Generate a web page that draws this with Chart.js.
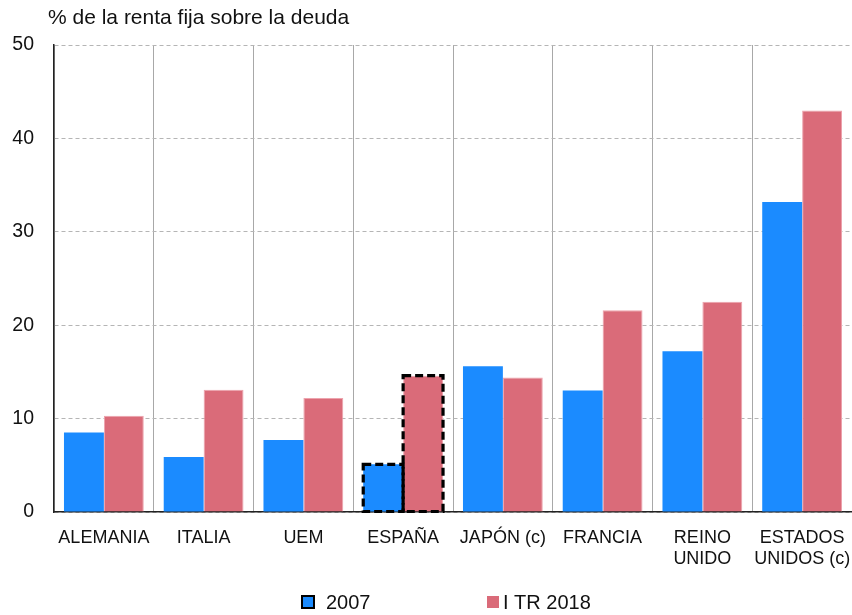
<!DOCTYPE html>
<html>
<head>
<meta charset="utf-8">
<script src="https://cdn.jsdelivr.net/npm/chart.js@4"></script>
<style>
  html, body { margin: 0; padding: 0; background: #fff; }
  #wrap { width: 852px; height: 615px; position: relative; }
</style>
</head>
<body>
<div id="wrap"><canvas id="c" width="852" height="615"></canvas></div>
<script>
const categories = ["ALEMANIA", "ITALIA", "UEM", "ESPAÑA", "JAPÓN (c)", "FRANCIA", ["REINO", "UNIDO"], ["ESTADOS", "UNIDOS (c)"]];
const values2007 = [8.5, 5.9, 7.7, 5.1, 15.6, 13.0, 17.2, 33.2];
const values2018 = [10.3, 13.1, 12.2, 14.6, 14.4, 21.6, 22.5, 43.0];
const seriesNames = ["2007", "I TR 2018"];
const yTicks = [0, 10, 20, 30, 40, 50];
const titleText = "% de la renta fija sobre la deuda";
const highlightIndex = 3;

const FONT = "'Liberation Sans', Arial, Helvetica, sans-serif";
const BLUE = "#1b8bff";
const PINK = "#da6b79";

const extras = {
  id: "extras",
  afterDatasetsDraw(chart) {
    const ctx = chart.ctx;
    ctx.save();
    ctx.strokeStyle = "#000";
    ctx.lineWidth = 3.2;
    ctx.setLineDash([8, 4]);
    chart.data.datasets.forEach((ds, i) => {
      const el = chart.getDatasetMeta(i).data[highlightIndex];
      if (!el) return;
      const p = el.getProps(["x", "y", "base", "width"], true);
      ctx.strokeRect(p.x - p.width / 2, p.y, p.width, p.base - p.y);
    });
    ctx.restore();
  },
  afterDraw(chart) {
    const ctx = chart.ctx;
    ctx.save();
    ctx.fillStyle = "#111";
    ctx.font = "21px " + FONT;
    ctx.textBaseline = "middle";
    ctx.textAlign = "left";
    ctx.fillText(titleText, 48, 18);
    // legend
    const items = [
      { x: 302, color: BLUE, border: true, text: seriesNames[0] },
      { x: 487, color: PINK, border: false, text: seriesNames[1] }
    ];
    ctx.font = "20px " + FONT;
    items.forEach(it => {
      ctx.fillStyle = it.color;
      ctx.fillRect(it.x, 596, 12, 12);
      if (it.border) {
        ctx.strokeStyle = "#000";
        ctx.lineWidth = 2;
        ctx.strokeRect(it.x, 596, 12, 12);
      }
      ctx.fillStyle = "#111";
      ctx.fillText(it.text, it.x + (it.border ? 24 : 16), 603);
    });
    ctx.restore();
  }
};

new Chart(document.getElementById("c"), {
  type: "bar",
  data: {
    labels: categories,
    datasets: [
      { label: seriesNames[0], data: values2007, backgroundColor: BLUE, borderWidth: 0 },
      { label: seriesNames[1], data: values2018, backgroundColor: PINK, borderColor: "#eda3ad", borderWidth: 1 }
    ]
  },
  options: {
    responsive: false,
    animation: false,
    devicePixelRatio: 1,
    layout: { padding: { top: 45, left: 0, right: 0, bottom: 0 } },
    datasets: { bar: { categoryPercentage: 0.8, barPercentage: 1.0 } },
    plugins: {
      legend: { display: false },
      title: { display: false },
      tooltip: { enabled: false }
    },
    scales: {
      x: {
        afterFit: s => { s.height = 103; s.paddingLeft = 0; s.paddingRight = 0; },
        grid: { offset: true, color: "#a8a8a8", lineWidth: 1, drawTicks: false },
        border: { color: "#222", width: 1.5 },
        ticks: { color: "#111", font: { family: FONT, size: 18, lineHeight: 1.2 }, padding: 15, maxRotation: 0, autoSkip: false }
      },
      y: {
        min: 0, max: 50,
        afterFit: s => { s.width = 54; s.paddingTop = 0; s.paddingBottom = 0; },
        afterBuildTicks: s => { s.ticks = yTicks.map(v => ({ value: v })); },
        grid: { color: "#b5b5b5", lineWidth: 1, drawTicks: false },
        border: { color: "#222", width: 1.5, dash: [4, 3], display: true },
        ticks: { color: "#111", font: { family: FONT, size: 19.5 }, padding: 20 }
      }
    }
  },
  plugins: [extras]
});
</script>
</body>
</html>
